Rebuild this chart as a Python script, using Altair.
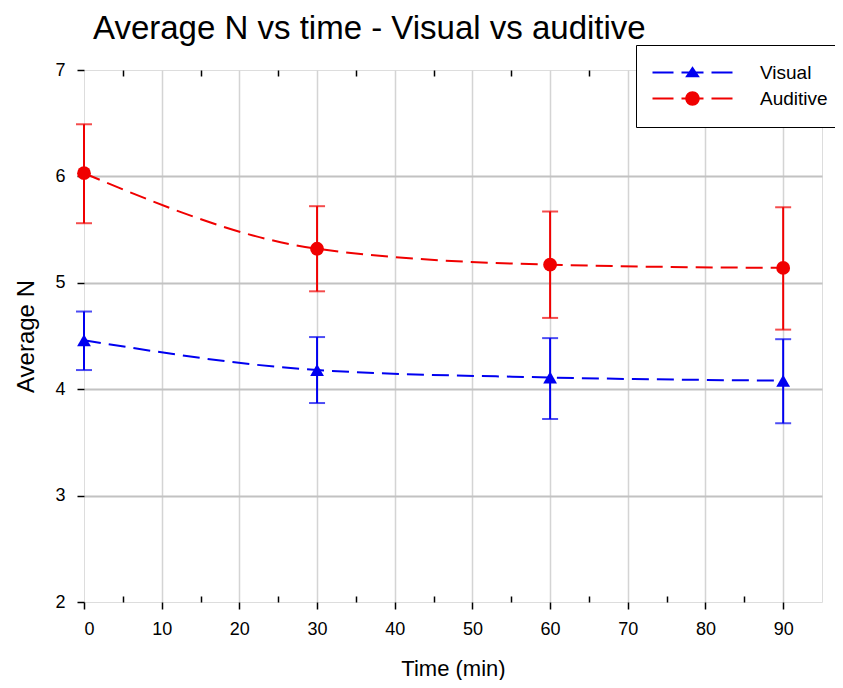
import altair as alt
import pandas as pd

# ---------------- data ----------------
time_min = [0, 30, 60, 90]
series_names = ["Visual", "Auditive"]
visual_mean = [4.46, 4.18, 4.11, 4.08]
visual_low = [4.18, 3.87, 3.72, 3.68]
visual_high = [4.73, 4.49, 4.48, 4.47]
auditive_mean = [6.03, 5.32, 5.17, 5.14]
auditive_low = [5.56, 4.92, 4.67, 4.56]
auditive_high = [6.49, 5.72, 5.67, 5.71]

x_major_ticks = [0, 10, 20, 30, 40, 50, 60, 70, 80, 90]
x_minor_ticks = [5, 15, 25, 35, 45, 55, 65, 75, 85]
x_grid_values = [10, 20, 30, 40, 50, 60, 70, 80, 90]
y_ticks = [2, 3, 4, 5, 6, 7]
y_grid_values = [3, 4, 5, 6]

# ---------------- styles ----------------
series_colors = ["#0000f0", "#f00000"]
marker_shapes = ["triangle-up", "circle"]
FONT = "Liberation Sans"
W, H = 738, 532

# legend symbols: dashed line + marker (custom svg paths, unit = sqrt(size)/2)
dash_part = "M-8,-0.22H-3.8V0.22H-8Z M-2.2,-0.22H2.2V0.22H-2.2Z M3.8,-0.22H8V0.22H3.8Z"
legend_paths = [
    dash_part + " M0,-1.25L1.47,0.95L-1.47,0.95Z",
    dash_part + " M1.45,0A1.45,1.45,0,1,1,-1.45,0A1.45,1.45,0,1,1,1.45,0Z",
]

rows = []
for name, m, lo, hi in [
    ("Visual", visual_mean, visual_low, visual_high),
    ("Auditive", auditive_mean, auditive_low, auditive_high),
]:
    for t, a, b, c in zip(time_min, m, lo, hi):
        rows.append({"series": name, "time": t, "mean": a, "low": b, "high": c})
df = pd.DataFrame(rows)

x_scale = alt.Scale(domain=[0, 95], nice=False, zero=False)
y_scale = alt.Scale(domain=[2, 7], nice=False, zero=False)
color_scale = alt.Scale(domain=series_names, range=series_colors)

base = alt.Chart(df)

main_x_axis = alt.Axis(
    orient="bottom", values=x_major_ticks, format="d", title="Time (min)",
    grid=False, domain=False,
    ticks=True, tickSize=7, tickColor="black", tickWidth=1.5,
    labelFontSize=18, labelPadding=11, labelColor="black", labelFont=FONT,
    titleFontSize=22, titlePadding=20, titleColor="black", titleFont=FONT,
    titleFontWeight="normal",
)
y_axis = alt.Axis(
    orient="left", values=y_ticks, format="d", title="Average N",
    grid=False, domain=False,
    ticks=True, tickSize=7, tickColor="black", tickWidth=1.5,
    labelFontSize=18, labelPadding=12, labelColor="black", labelFont=FONT,
    titleFontSize=24, titlePadding=16, titleColor="black", titleFont=FONT,
    titleFontWeight="normal",
)
x_grid_axis = alt.Axis(
    orient="bottom", values=x_grid_values, grid=True, gridColor="#d4d4d4", gridWidth=1.5,
    labels=False, ticks=False, domain=False, title=None,
)
y_grid_axis = alt.Axis(
    orient="left", values=y_grid_values, grid=True, gridColor="#c2c2c2", gridWidth=2,
    labels=False, ticks=False, domain=False, title=None,
)
bottom_minor_axis = alt.Axis(
    orient="top", offset=-H, values=x_minor_ticks, labels=False, grid=False,
    domain=False, ticks=True, tickSize=6, tickColor="black", tickWidth=1.5, title=None,
)
top_minor_axis = alt.Axis(
    orient="bottom", offset=-H, values=x_minor_ticks, labels=False, grid=False,
    domain=False, ticks=True, tickSize=6, tickColor="black", tickWidth=1.5, title=None,
)

# error bar stems
stems = base.mark_rule(strokeWidth=2).encode(
    x=alt.X("time:Q", scale=x_scale, axis=main_x_axis),
    y=alt.Y("low:Q", scale=y_scale, axis=y_axis),
    y2="high:Q",
    color=alt.Color("series:N", scale=color_scale, legend=None),
)

# error bar caps
caps = base.transform_fold(["low", "high"], as_=["end", "val"]).mark_tick(
    orient="horizontal", size=16, thickness=2
).encode(
    x=alt.X("time:Q", scale=x_scale, axis=x_grid_axis),
    y=alt.Y("val:Q", scale=y_scale, axis=y_grid_axis),
    color=alt.Color("series:N", scale=color_scale, legend=None),
)

# dashed smooth lines
lines = base.mark_line(interpolate="monotone", strokeDash=[17, 8], strokeWidth=2).encode(
    x=alt.X("time:Q", scale=x_scale, axis=bottom_minor_axis),
    y=alt.Y("mean:Q", scale=y_scale, axis=None),
    color=alt.Color("series:N", scale=color_scale, legend=None),
    detail="series:N",
)

# markers
points = base.mark_point(filled=True, size=190, opacity=1).encode(
    x=alt.X("time:Q", scale=x_scale, axis=top_minor_axis),
    y=alt.Y("mean:Q", scale=y_scale, axis=None),
    color=alt.Color("series:N", scale=color_scale, legend=None),
    shape=alt.Shape("series:N", scale=alt.Scale(domain=series_names, range=marker_shapes), legend=None),
)

legend_def = alt.Legend(
    title=None, orient="none", legendX=552, legendY=-25,
    fillColor="white", strokeColor="black", padding=18,
    symbolSize=100, symbolOffset=29, symbolStrokeWidth=0, symbolOpacity=1,
    symbolFillColor="white", symbolStrokeColor="transparent",
    labelOffset=58, labelFontSize=19, labelFont=FONT, labelColor="black",
    rowPadding=6, labelLimit=300,
)

legend_layer = base.transform_filter("false").mark_point(filled=True, opacity=1).encode(
    x=alt.X("time:Q", scale=x_scale, axis=None),
    y=alt.Y("mean:Q", scale=y_scale, axis=None),
    fill=alt.Fill("series:N", scale=alt.Scale(domain=series_names, range=series_colors), legend=legend_def),
    shape=alt.Shape("series:N", scale=alt.Scale(domain=series_names, range=legend_paths), legend=legend_def),
)

chart = (
    alt.layer(stems, caps, lines, points, legend_layer)
    .resolve_axis(x="independent", y="independent")
    .resolve_scale(shape="independent", fill="independent")
    .properties(
        width=W, height=H,
        title=alt.TitleParams(
            "Average N vs time - Visual vs auditive", anchor="start", frame="group",
            dx=9, dy=6, fontSize=33, font=FONT, fontWeight="normal", color="black", offset=5,
        ),
        autosize=alt.AutoSizeParams(type="none"),
        padding={"left": 76, "top": 62, "right": 13, "bottom": 78},
    )
    .configure_view(stroke="black", strokeWidth=2)
    .configure_legend(strokeWidth=2)
    .configure(background="white")
)

chart.save("out.html", embed_options={"renderer": "svg", "actions": False})
